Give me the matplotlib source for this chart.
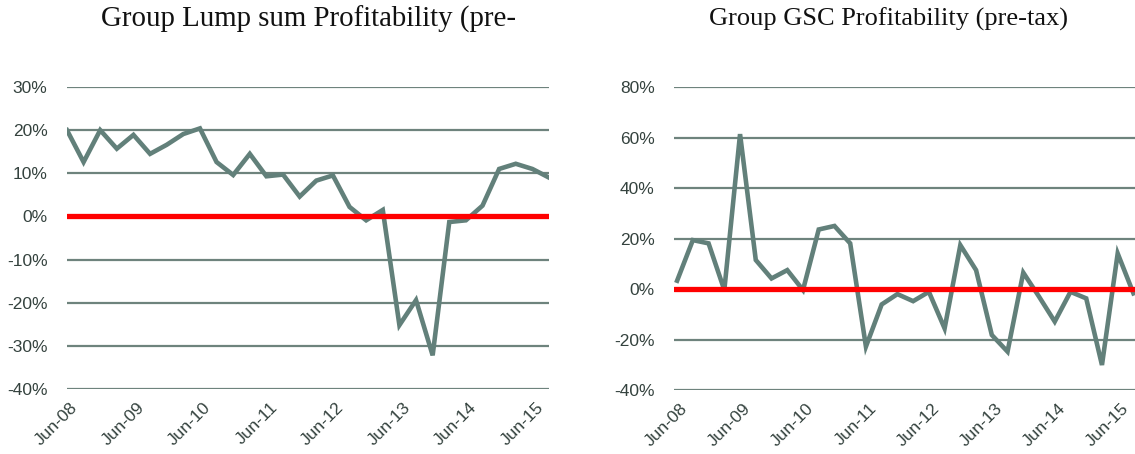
import numpy as np
import matplotlib.pyplot as plt

# quarterly data, Jun-08 .. Sep-15
lump_sum = [20.0, 12.6, 20.0, 15.7, 18.9, 14.5, 16.6, 19.1, 20.4, 12.6,
            9.6, 14.5, 9.3, 9.7, 4.6, 8.3, 9.5, 2.2, -0.9, 1.5,
            -25.2, -19.4, -32.2, -1.3, -0.9, 2.5, 11.0, 12.2, 11.0, 9.0]
gsc = [3.3, 19.4, 18.1, -0.4, 61.4, 11.5, 4.2, 7.5, -0.4, 23.6,
       25.0, 18.1, -22.8, -6.1, -2.0, -4.8, -1.1, -15.6, 17.4, 7.5,
       -18.2, -24.8, 6.5, -3.0, -12.9, -1.1, -3.7, -30.1, 14.1, -1.7]
tick_labels = ['Jun-08', 'Jun-09', 'Jun-10', 'Jun-11',
               'Jun-12', 'Jun-13', 'Jun-14', 'Jun-15']

line_col = '#62807a'
grid_col = '#6e837d'
text_col = '#34423e'

plt.rcParams['font.family'] = 'Liberation Sans'

fig = plt.figure(figsize=(11.35, 4.54), dpi=100)
ax1 = fig.add_axes([0.059, 0.1432, 0.4247, 0.6652])
ax2 = fig.add_axes([0.5938, 0.141, 0.4062, 0.667])

def style(ax, data, yticks, xlim):
    x = np.arange(len(data))
    for y in yticks:
        if y != 0:
            ax.axhline(y, color=grid_col, lw=1.6, zorder=1)
    ax.axhline(0, color='#ff0000', lw=3.8, zorder=3, solid_capstyle='round')
    ax.plot(x, data, color=line_col, lw=3.3, zorder=2, solid_joinstyle='miter')
    ax.set_ylim(yticks[0], yticks[-1])
    ax.set_xlim(*xlim)
    ax.set_yticks(yticks)
    ax.set_yticklabels(['%d%%' % v for v in yticks])
    ax.set_xticks(x[::4] + 0.2)
    ax.set_xticklabels(tick_labels, rotation=45, ha='right', rotation_mode='anchor')
    ax.tick_params(length=0, labelsize=12.5, colors=text_col)
    ax.tick_params(axis='y', pad=14)
    ax.tick_params(axis='x', pad=8)
    for s in ax.spines.values():
        s.set_visible(False)
    ax.patch.set_alpha(0)

style(ax1, lump_sum, list(range(-40, 31, 10)), (0, 29))
style(ax2, gsc, list(range(-40, 81, 20)), (-0.2, 29.1))

fig.text(0.2714, 0.958, 'Group Lump sum Profitability (pre-', ha='center', va='center',
         family='Liberation Serif', fontsize=20.8, color='#111111')
fig.text(0.783, 0.958, 'Group GSC Profitability (pre-tax)', ha='center', va='center',
         family='Liberation Serif', fontsize=19, color='#111111')

fig.savefig('out.png', dpi=100)
